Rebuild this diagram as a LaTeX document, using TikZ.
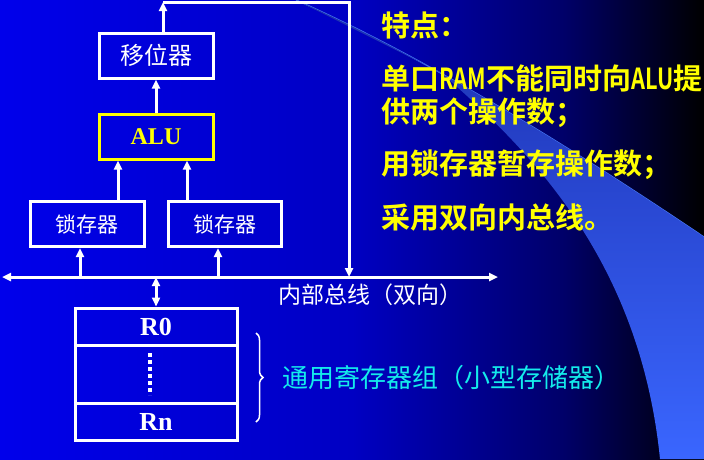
\documentclass[tikz,border=0pt]{standalone}
\usepackage{fontspec}
\setmainfont{Liberation Serif}
\newfontfamily\cjk[BoldFont={Noto Sans CJK SC Bold}]{Noto Sans CJK SC}
\usetikzlibrary{arrows.meta,calc,decorations.pathreplacing}

\definecolor{bgA}{RGB}{0,0,235}
\definecolor{bgB}{RGB}{0,0,195}
\definecolor{bgC}{RGB}{0,0,105}
\definecolor{swA}{RGB}{28,48,175}
\definecolor{swM}{RGB}{52,92,240}
\definecolor{swB}{RGB}{58,102,255}
\definecolor{swLine}{RGB}{70,120,245}
\definecolor{hl}{RGB}{255,255,0}
\definecolor{aqua}{RGB}{20,235,235}

% slide background: bright blue on the left fading to black on the right
\pgfdeclarehorizontalshading{bgshade}{100bp}{color(0bp)=(bgA); color(25bp)=(bgA);
  color(50bp)=(bgB); color(65bp)=(bgC); color(75bp)=(black); color(100bp)=(black)}

\tikzset{
  wire/.style={draw=white, line width=3pt},
  arr/.style={wire, -{Triangle[length=9pt,width=8pt]}},
  arrboth/.style={wire, {Triangle[length=9pt,width=8pt]}-{Triangle[length=9pt,width=8pt]}},
  unit/.style={draw=white, line width=3pt, inner sep=0pt, text=white,
    minimum width=114pt, minimum height=45pt},
  latch/.style={unit, font=\cjk\fontsize{21}{21}\selectfont},
  reg/.style={unit, minimum width=162pt, font=\bfseries\fontsize{26}{26}\selectfont},
  point/.style={anchor=west, inner sep=0pt, text=hl,
    font=\cjk\bfseries\fontsize{29}{29}\selectfont}
}
\newcommand{\lat}[1]{\scalebox{0.75}[1]{#1}}

\begin{document}
\begin{tikzpicture}[x=1pt, y=-1pt]
\useasboundingbox (0,0) rectangle (704,459);
\shade[shading=bgshade] (0,0) rectangle (704,459);

% decorative light-blue swoosh
\draw[swLine, line width=1.2pt] (296,0) .. controls (420,55) and (560,140) .. (704,237);
\shade[top color=swA, middle color=swM, bottom color=swB]
  (296,0) .. controls (420,55) and (560,140) .. (704,237) -- (704,459) -- (660,459)
  .. controls (640,260) and (530,150) .. (440,72) -- cycle;

% datapath units
\node[unit, font=\cjk\fontsize{24}{24}\selectfont] (shift) at (156,55.5) {移位器};
\node[unit, draw=hl, text=hl, font=\bfseries\fontsize{24}{24}\selectfont] (alu) at (156,136.5) {ALU};
\node[latch] (latA) at (87,224) {锁存器};
\node[latch, minimum width=113pt] (latB) at (224.5,224) {锁存器};

% register file
\node[reg, minimum height=37pt] (r0) at (156,326.5) {R0};
\node[reg, minimum height=58pt] (rmid) at (156,374) {};
\node[reg, minimum height=37pt] (rn) at (156,421.5) {Rn};
\draw[white, line width=4pt, dash pattern=on 4pt off 3pt]
  ($(rmid.center)+(-6,-21)$) -- ($(rmid.center)+(-6,21)$);

% internal bus
\coordinate (busL) at (2,277);
\coordinate (busR) at (498,277);
\draw[arrboth] (busL) -- (busR);

% column positions of the connectors
\coordinate (cA) at (80,0);
\coordinate (cB) at (218,0);
\coordinate (cC) at (118,0);
\coordinate (cD) at (187,0);
\coordinate (top1) at (163,2);
\coordinate (top2) at (349,2);

\draw[arr] (busL -| cA) -- (latA.south -| cA);
\draw[arr] (busL -| cB) -- (latB.south -| cB);
\draw[arr] (latA.north -| cC) -- (alu.south -| cC);
\draw[arr] (latB.north -| cD) -- (alu.south -| cD);
\draw[arr] (alu.north) -- (shift.south);
\draw[arr] (shift.north -| top1) -- (top1);
\draw[arr] (top1) -- (top2) -- (top2 |- busL);
\draw[arrboth] (busL -| r0.north) -- (r0.north);

% labels
\node[anchor=west, inner sep=0pt, text=white, font=\cjk\fontsize{23}{23}\selectfont]
  (busLabel) at (278,295) {内部总线（双向）};
\coordinate (b1) at (256,333);
\coordinate (b2) at (256,422);
\draw[white, line width=1.5pt, decorate, decoration={brace, amplitude=7pt}] (b1) -- (b2);
\node[anchor=west, inner sep=0pt, text=aqua, font=\cjk\fontsize{26}{26}\selectfont]
  (regLabel) at (282,378) {通用寄存器组（小型存储器）};

% feature list
\node[point] (p0) at (381,25) {特点：};
\node[point] (p1) at (381,78) {单口\lat{RAM}不能同时向\lat{ALU}提};
\node[point] (p2) at (381,113) {供两个操作数；};
\node[point] (p3) at (381,165) {用锁存器暂存操作数；};
\node[point] (p4) at (381,218) {采用双向内总线。};
\end{tikzpicture}
\end{document}
